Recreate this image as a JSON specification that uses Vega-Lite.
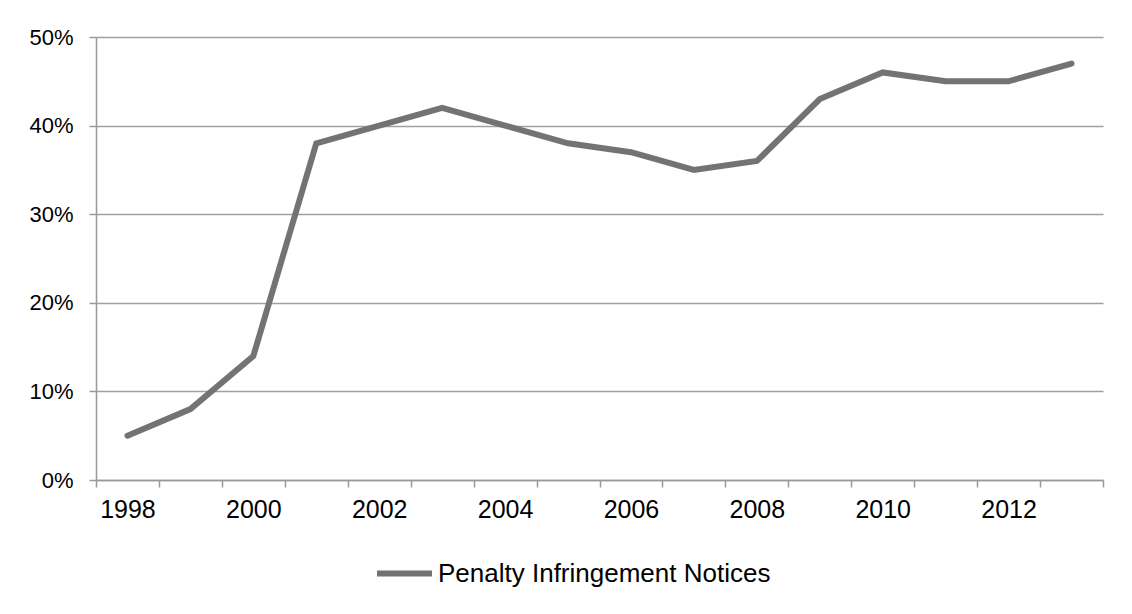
{
  "$schema": "https://vega.github.io/schema/vega-lite/v6.json",
  "width": 1007,
  "height": 443,
  "autosize": {"type": "none"},
  "padding": {"left": 96, "top": 37, "right": 29, "bottom": 134},
  "background": "white",
  "config": {
    "font": "Liberation Sans",
    "view": {"stroke": null},
    "axis": {
      "domainColor": "#999999",
      "domainWidth": 1.5,
      "tickColor": "#999999",
      "tickWidth": 1.5,
      "tickSize": 7,
      "labelColor": "black",
      "labelFont": "Liberation Sans",
      "title": null
    }
  },
  "data": {
    "values": [
      {"year": 1998, "share": 0.05, "series": "Penalty Infringement Notices"},
      {"year": 1999, "share": 0.08, "series": "Penalty Infringement Notices"},
      {"year": 2000, "share": 0.14, "series": "Penalty Infringement Notices"},
      {"year": 2001, "share": 0.38, "series": "Penalty Infringement Notices"},
      {"year": 2002, "share": 0.40, "series": "Penalty Infringement Notices"},
      {"year": 2003, "share": 0.42, "series": "Penalty Infringement Notices"},
      {"year": 2004, "share": 0.40, "series": "Penalty Infringement Notices"},
      {"year": 2005, "share": 0.38, "series": "Penalty Infringement Notices"},
      {"year": 2006, "share": 0.37, "series": "Penalty Infringement Notices"},
      {"year": 2007, "share": 0.35, "series": "Penalty Infringement Notices"},
      {"year": 2008, "share": 0.36, "series": "Penalty Infringement Notices"},
      {"year": 2009, "share": 0.43, "series": "Penalty Infringement Notices"},
      {"year": 2010, "share": 0.46, "series": "Penalty Infringement Notices"},
      {"year": 2011, "share": 0.45, "series": "Penalty Infringement Notices"},
      {"year": 2012, "share": 0.45, "series": "Penalty Infringement Notices"},
      {"year": 2013, "share": 0.47, "series": "Penalty Infringement Notices"}
    ]
  },
  "mark": {"type": "line", "strokeWidth": 6, "strokeCap": "round", "strokeJoin": "miter"},
  "encoding": {
    "x": {
      "field": "year",
      "type": "quantitative",
      "scale": {"domain": [1997.5, 2013.5], "nice": false, "zero": false},
      "axis": {
        "grid": false,
        "values": [1997.5, 1998, 1998.5, 1999, 1999.5, 2000, 2000.5, 2001, 2001.5, 2002, 2002.5, 2003, 2003.5, 2004, 2004.5, 2005, 2005.5, 2006, 2006.5, 2007, 2007.5, 2008, 2008.5, 2009, 2009.5, 2010, 2010.5, 2011, 2011.5, 2012, 2012.5, 2013, 2013.5],
        "labelExpr": "datum.value % 2 === 0 && datum.value <= 2012 ? format(datum.value, 'd') : ''",
        "labelOverlap": false,
        "labelFlush": false,
        "labelFontSize": 25,
        "labelPadding": 10,
        "tickOpacity": {"condition": {"test": "datum.value % 1 === 0", "value": 0}, "value": 1}
      }
    },
    "y": {
      "field": "share",
      "type": "quantitative",
      "scale": {"domain": [0, 0.5], "nice": false},
      "axis": {
        "values": [0, 0.1, 0.2, 0.3, 0.4, 0.5],
        "format": ".0%",
        "grid": true,
        "gridColor": "#a0a0a0",
        "gridWidth": 1.5,
        "labelFontSize": 22,
        "labelPadding": 16
      }
    },
    "color": {
      "field": "series",
      "type": "nominal",
      "scale": {"range": ["#737373"]},
      "legend": {
        "title": null,
        "orient": "none",
        "legendX": 278,
        "legendY": 506,
        "symbolType": "stroke",
        "symbolSize": 3025,
        "symbolStrokeWidth": 6,
        "labelFontSize": 26,
        "labelColor": "black",
        "labelOffset": 3,
        "labelLimit": 500
      }
    }
  }
}
